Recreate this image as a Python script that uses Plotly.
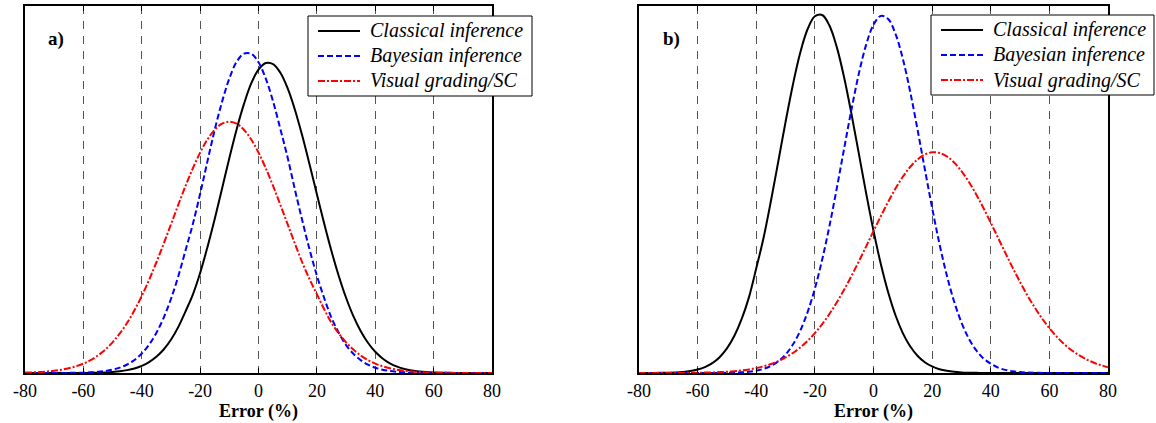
import plotly.graph_objects as go

error_pct = [-80, -77.5, -75, -72.5, -70, -67.5, -65, -62.5, -60, -57.5, -55, -52.5, -50, -47.5,
             -45, -42.5, -40, -37.5, -35, -32.5, -30, -27.5, -25, -22.5, -20, -17.5, -15, -12.5,
             -10, -7.5, -5, -2.5, 0, 2.5, 5, 7.5, 10, 12.5, 15, 17.5, 20, 22.5, 25, 27.5, 30,
             32.5, 35, 37.5, 40, 42.5, 45, 47.5, 50, 52.5, 55, 57.5, 60, 62.5, 65, 67.5, 70,
             72.5, 75, 77.5, 80]

# Panel a) relative density (1.0 = top of frame)
a_classical = [0.0, 0.0, 0.0, 0.0, 0.0, 0.0, 0.0001, 0.0001, 0.0003, 0.0005, 0.0009, 0.0016,
               0.0028, 0.0047, 0.0078, 0.0124, 0.0195, 0.0297, 0.0441, 0.064, 0.0906, 0.125,
               0.168, 0.2138, 0.2725, 0.3428, 0.4194, 0.502, 0.5854, 0.6638, 0.7325, 0.789,
               0.8266, 0.8446, 0.8417, 0.818, 0.7753, 0.7167, 0.6462, 0.5681, 0.4871, 0.4074,
               0.3323, 0.2644, 0.2051, 0.1551, 0.1145, 0.0824, 0.0578, 0.0396, 0.0264, 0.0172,
               0.0109, 0.0068, 0.0041, 0.0024, 0.0014, 0.0008, 0.0004, 0.0002, 0.0001, 0.0001,
               0.0, 0.0, 0.0]
a_bayesian = [0.0, 0.0, 0.0, 0.0, 0.0001, 0.0001, 0.0003, 0.0006, 0.001, 0.0018, 0.0032, 0.0055,
              0.0091, 0.0148, 0.0232, 0.0356, 0.0531, 0.0772, 0.1091, 0.1503, 0.2016, 0.263,
              0.3343, 0.4057, 0.4884, 0.5766, 0.6629, 0.7387, 0.8022, 0.8478, 0.8703, 0.8699,
              0.8465, 0.802, 0.74, 0.6646, 0.5863, 0.4989, 0.4154, 0.3363, 0.2653, 0.2043,
              0.1505, 0.1096, 0.0761, 0.0524, 0.035, 0.0228, 0.0145, 0.009, 0.0054, 0.0032,
              0.0018, 0.001, 0.0005, 0.0003, 0.0001, 0.0001, 0.0, 0.0, 0.0, 0.0, 0.0, 0.0, 0.0]
a_visual = [0.0011, 0.0017, 0.0026, 0.004, 0.006, 0.0089, 0.0128, 0.0183, 0.0256, 0.0352, 0.0478,
            0.0637, 0.0836, 0.1078, 0.1368, 0.1708, 0.2098, 0.2534, 0.3011, 0.352, 0.4048,
            0.4579, 0.5096, 0.5577, 0.6006, 0.6362, 0.6629, 0.6794, 0.685, 0.6794, 0.6629,
            0.6362, 0.6006, 0.5577, 0.5096, 0.4579, 0.4048, 0.352, 0.3011, 0.2554, 0.2148,
            0.1738, 0.1368, 0.1078, 0.0836, 0.0637, 0.0478, 0.0352, 0.0256, 0.0183, 0.0128,
            0.0089, 0.006, 0.004, 0.0026, 0.0017, 0.0011, 0.0007, 0.0004, 0.0003, 0.0002,
            0.0001, 0.0001, 0.0, 0.0]

# Panel b)
b_classical = [0.0, 0.0001, 0.0002, 0.0004, 0.0008, 0.0015, 0.0028, 0.0052, 0.0093, 0.016,
               0.0267, 0.043, 0.0669, 0.1006, 0.1465, 0.2061, 0.2852, 0.3685, 0.4685, 0.5757,
               0.684, 0.7856, 0.8725, 0.9366, 0.972, 0.9754, 0.9461, 0.8873, 0.8045, 0.7051,
               0.5976, 0.4895, 0.3877, 0.2969, 0.2198, 0.1573, 0.1088, 0.0728, 0.0471, 0.0294,
               0.0178, 0.0104, 0.0059, 0.0032, 0.0017, 0.0009, 0.0004, 0.0002, 0.0001, 0.0,
               0.0, 0.0, 0.0, 0.0, 0.0, 0.0, 0.0, 0.0, 0.0, 0.0, 0.0, 0.0, 0.0, 0.0, 0.0]
b_bayesian = [0.0, 0.0, 0.0, 0.0, 0.0, 0.0, 0.0, 0.0, 0.0, 0.0, 0.0001, 0.0002, 0.0005, 0.001,
              0.0019, 0.0035, 0.0064, 0.0113, 0.0192, 0.0317, 0.0504, 0.0775, 0.1151, 0.1656,
              0.2301, 0.3092, 0.4017, 0.5044, 0.6125, 0.7188, 0.8157, 0.8948, 0.949, 0.973,
              0.9645, 0.9243, 0.8564, 0.767, 0.6642, 0.556, 0.45, 0.3521, 0.2663, 0.1947,
              0.1377, 0.0941, 0.0622, 0.0397, 0.0255, 0.0146, 0.0085, 0.0047, 0.0026, 0.0013,
              0.0007, 0.0003, 0.0002, 0.0001, 0.0, 0.0, 0.0, 0.0, 0.0, 0.0, 0.0]
b_visual = [0.0, 0.0, 0.0, 0.0001, 0.0001, 0.0002, 0.0003, 0.0005, 0.0007, 0.0011, 0.0016,
            0.0024, 0.0034, 0.0049, 0.007, 0.0097, 0.0134, 0.0182, 0.0244, 0.0323, 0.0423,
            0.0546, 0.0696, 0.0875, 0.1087, 0.1333, 0.1613, 0.1927, 0.2273, 0.2646, 0.3041,
            0.3451, 0.3865, 0.4273, 0.4664, 0.5026, 0.5346, 0.5613, 0.5818, 0.5954, 0.6014,
            0.5997, 0.5903, 0.5736, 0.5503, 0.5211, 0.4871, 0.4495, 0.4095, 0.3682, 0.327,
            0.2865, 0.2478, 0.2117, 0.1785, 0.1486, 0.122, 0.099, 0.0792, 0.0626, 0.0489,
            0.0376, 0.0286, 0.0215, 0.0159]

series_names = ["Classical inference", "Bayesian inference", "Visual grading/SC"]
x_ticks = [-80, -60, -40, -20, 0, 20, 40, 60, 80]
panel_labels = ["a)", "b)"]

SERIF = "Times New Roman, Liberation Serif, serif"
W, H = 1156, 423
styles = [
    dict(color="black", width=2, dash="solid"),
    dict(color="#0000ff", width=2, dash="6px,3px"),
    dict(color="#ff0000", width=2, dash="7px,2px,2px,2px"),
]

fig = go.Figure()
panels = [
    (a_classical, a_bayesian, a_visual, "x", "y"),
    (b_classical, b_bayesian, b_visual, "x2", "y2"),
]
for c, b, v, xa, ya in panels:
    for name, ys, st in zip(series_names, [c, b, v], styles):
        fig.add_trace(go.Scatter(
            x=error_pct, y=ys, mode="lines", name=name, showlegend=False,
            line=dict(color=st["color"], width=st["width"], dash=st["dash"], shape="spline", smoothing=1.0),
            xaxis=xa, yaxis=ya, hoverinfo="skip",
        ))

xcommon = dict(
    range=[-80, 80], tickvals=x_ticks, ticktext=[str(t) for t in x_ticks],
    ticks="inside", ticklen=5, tickcolor="black", tickwidth=1,
    showline=True, linecolor="black", linewidth=2, mirror="ticks",
    showgrid=True, gridcolor="#555555", gridwidth=1, griddash="8px,7px",
    zeroline=False, automargin=False,
    tickfont=dict(family=SERIF, size=18, color="black"),
    title=dict(text="<b>Error (%)</b>", font=dict(family=SERIF, size=18, color="black"), standoff=0),
)
ycommon = dict(
    range=[0, 1], showticklabels=False, ticks="", showgrid=False, zeroline=False,
    showline=True, linecolor="black", linewidth=2, mirror=True, automargin=False,
)

# hand-drawn legends (box, line samples, italic labels)
shapes = []
annotations = []
legend_boxes = [(308, 532, 16, 96), (931, 1154, 15, 95)]
row_offsets = [15, 40, 65]
for (bx0, bx1, by0, by1) in legend_boxes:
    shapes.append(dict(type="rect", xref="paper", yref="paper",
                       x0=bx0 / W, x1=bx1 / W, y0=1 - by1 / H, y1=1 - by0 / H,
                       line=dict(color="black", width=1), fillcolor="white", layer="above"))
    for name, st, ro in zip(series_names, styles, row_offsets):
        yy = 1 - (by0 + ro) / H
        shapes.append(dict(type="line", xref="paper", yref="paper",
                           x0=(bx0 + 10) / W, x1=(bx0 + 52) / W, y0=yy, y1=yy,
                           line=dict(color=st["color"], width=st["width"], dash=st["dash"]),
                           layer="above"))
        annotations.append(dict(text=name, xref="paper", yref="paper",
                                x=(bx0 + 60) / W, y=yy, xanchor="left", yanchor="middle",
                                showarrow=False,
                                font=dict(family=SERIF, size=20, color="black", style="italic")))

for lbl, lx in zip(panel_labels, [46, 661]):
    annotations.append(dict(text="<b>" + lbl + "</b>", xref="paper", yref="paper",
                            x=lx / W, y=1 - 39 / H, xanchor="left", yanchor="middle",
                            showarrow=False, font=dict(family=SERIF, size=19, color="black")))

fig.update_layout(
    width=W, height=H, autosize=False,
    margin=dict(l=0, r=0, t=0, b=0, pad=0, autoexpand=False),
    paper_bgcolor="white", plot_bgcolor="white",
    showlegend=False,
    xaxis=dict(domain=[25 / W, 492 / W], anchor="y", **xcommon),
    yaxis=dict(domain=[1 - 373 / H, 1 - 6 / H], anchor="x", **ycommon),
    xaxis2=dict(domain=[639 / W, 1108 / W], anchor="y2", **xcommon),
    yaxis2=dict(domain=[1 - 373 / H, 1 - 6 / H], anchor="x2", **ycommon),
    shapes=shapes,
    annotations=annotations,
)

fig.write_html(
    "out.html",
    post_script="document.documentElement.style.margin='0';document.body.style.margin='0';"
                "document.body.style.overflow='hidden';",
)
